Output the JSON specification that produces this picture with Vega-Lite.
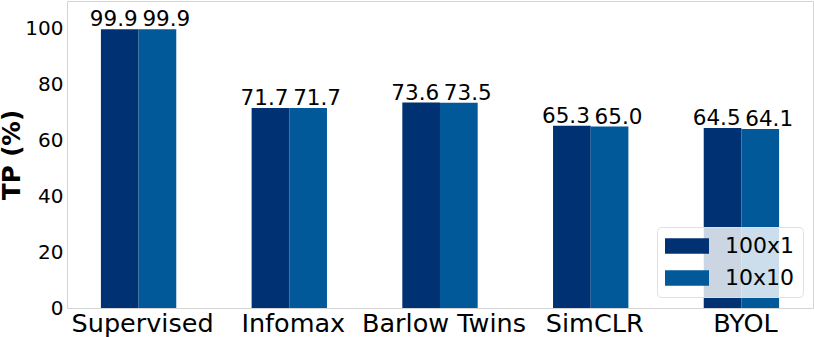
{
  "$schema": "https://vega.github.io/schema/vega-lite/v6.json",
  "autosize": "none",
  "width": 746,
  "height": 307,
  "padding": {"left": 67, "top": 1, "right": 1, "bottom": 29},
  "background": "white",
  "config": {
    "font": "DejaVu Sans",
    "view": {"stroke": "#d4d4d4", "strokeWidth": 1}
  },
  "data": {
    "values": [
      {"method": "Supervised", "setting": "100x1", "tp": 99.9},
      {"method": "Supervised", "setting": "10x10", "tp": 99.9},
      {"method": "Infomax", "setting": "100x1", "tp": 71.7},
      {"method": "Infomax", "setting": "10x10", "tp": 71.7},
      {"method": "Barlow Twins", "setting": "100x1", "tp": 73.6},
      {"method": "Barlow Twins", "setting": "10x10", "tp": 73.5},
      {"method": "SimCLR", "setting": "100x1", "tp": 65.3},
      {"method": "SimCLR", "setting": "10x10", "tp": 65.0},
      {"method": "BYOL", "setting": "100x1", "tp": 64.5},
      {"method": "BYOL", "setting": "10x10", "tp": 64.1}
    ]
  },
  "encoding": {
    "x": {
      "field": "method",
      "type": "nominal",
      "sort": ["Supervised", "Infomax", "Barlow Twins", "SimCLR", "BYOL"],
      "scale": {"paddingInner": 0.5, "paddingOuter": 0.225},
      "axis": {
        "title": null,
        "labelAngle": 0,
        "labelFontSize": 25.5,
        "labelColor": "#000",
        "labelOffset": 4,
        "ticks": false,
        "domain": false,
        "labelPadding": 3.5
      }
    },
    "xOffset": {"field": "setting", "type": "nominal", "sort": ["100x1", "10x10"]},
    "y": {
      "field": "tp",
      "type": "quantitative",
      "scale": {"domain": [0, 110], "nice": false},
      "axis": {
        "title": "TP (%)",
        "titleFontSize": 24.5,
        "titleFontWeight": "bold",
        "titleColor": "#000",
        "titleAngle": 270,
        "titleAlign": "center",
        "titleBaseline": "alphabetic",
        "titleX": -47.5,
        "titleY": 153.5,
        "values": [0, 20, 40, 60, 80, 100],
        "labelFontSize": 20,
        "labelColor": "#000",
        "ticks": false,
        "domain": false,
        "grid": false,
        "labelPadding": 4
      }
    }
  },
  "layer": [
    {
      "mark": {"type": "bar"},
      "encoding": {
        "color": {
          "field": "setting",
          "type": "nominal",
          "sort": ["100x1", "10x10"],
          "scale": {"domain": ["100x1", "10x10"], "range": ["#003273", "#02599a"]},
          "legend": {
            "title": null,
            "orient": "none",
            "legendX": 590,
            "legendY": 226,
            "padding": 8,
            "fillColor": "rgba(255,255,255,0.8)",
            "strokeColor": "#e0e0e0",
            "cornerRadius": 4,
            "symbolType": "M-1,-0.7H3V0.7H-1Z",
            "symbolSize": 484,
            "symbolStrokeWidth": 0,
            "symbolOpacity": 1,
            "labelFontSize": 22,
            "labelColor": "#000",
            "labelOffset": 38,
            "rowPadding": 10
          }
        }
      }
    },
    {
      "transform": [{"filter": "datum.setting === '100x1'"}],
      "mark": {"type": "text", "fontSize": 21.5, "color": "#000", "align": "right", "baseline": "alphabetic", "dy": -3, "dx": 18},
      "encoding": {
        "text": {"field": "tp", "type": "quantitative", "format": ".1f"}
      }
    },
    {
      "transform": [{"filter": "datum.setting === '10x10'"}],
      "mark": {"type": "text", "fontSize": 21.5, "color": "#000", "align": "left", "baseline": "alphabetic", "dy": -3, "dx": -15},
      "encoding": {
        "text": {"field": "tp", "type": "quantitative", "format": ".1f"}
      }
    }
  ]
}
